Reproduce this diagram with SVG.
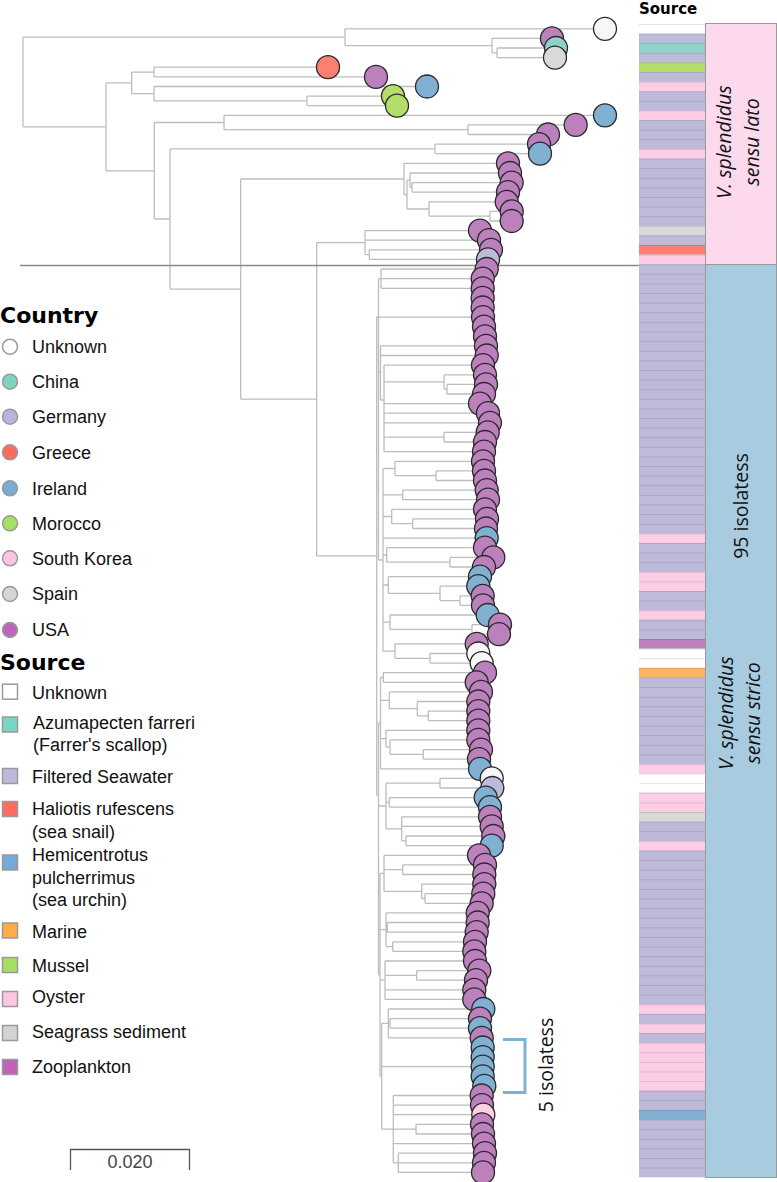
<svg xmlns="http://www.w3.org/2000/svg" width="777" height="1182" viewBox="0 0 777 1182">
<style>
.edge{fill:none;stroke:#bdbdbd;stroke-width:1.3}
.tip{stroke:#2a2a2a;stroke-width:1.3}
.usa{fill:#bc80bd}.irl{fill:#80b1d3}.unk{fill:#f7f7f7}.ger{fill:#bebada}.chn{fill:#8dd3c7}.spa{fill:#d9d9d9}.gre{fill:#fb8072}.mor{fill:#b3de69}.kor{fill:#fccde5}
.ttl{font-family:"DejaVu Sans",Verdana,sans-serif;font-weight:bold;fill:#000}
.lg{font-family:"Liberation Sans",Arial,sans-serif;font-size:18px;fill:#111}
.lc{stroke:#9a9a9a;stroke-width:1.5}
.cl{font-family:"Open Sans","DejaVu Sans",sans-serif;font-size:19.5px;fill:#111}
</style>
<defs>
<pattern id="sep" patternUnits="userSpaceOnUse" x="639" y="24" width="66" height="9.61"><rect x="0" y="0" width="66" height="0.9" fill="#000" fill-opacity="0.12"/></pattern>
</defs>
<rect width="777" height="1182" fill="#fff"/>
<g id="clade-boxes">
<rect x="705.5" y="23.5" width="71" height="241" fill="#fcd9ec" stroke="#999" stroke-width="1"/>
<rect x="705.5" y="264.5" width="71" height="913" fill="#a8cbe0" stroke="#999" stroke-width="1"/>
<text class="cl" font-style="italic" text-anchor="middle" transform="translate(731,142) rotate(-90)">V. splendidus</text>
<text class="cl" font-style="italic" text-anchor="middle" transform="translate(758.5,142) rotate(-90)">sensu lato</text>
<text class="cl" text-anchor="middle" transform="translate(748,506) rotate(-90)">95 isolatess</text>
<text class="cl" font-style="italic" text-anchor="middle" transform="translate(733,713) rotate(-90)">V. splendidus</text>
<text class="cl" font-style="italic" text-anchor="middle" transform="translate(760,713) rotate(-90)">sensu strico</text>
</g>
<g id="source-column">
<text class="ttl" x="639" y="14" font-size="15">Source</text>
<rect x="639" y="24" width="66" height="1153.2" fill="#bebada"/>
<rect x="639" y="24" width="66" height="9.61" fill="#fff"/>
<rect x="639" y="43.22" width="66" height="9.61" fill="#8dd3c7"/>
<rect x="639" y="62.44" width="66" height="9.61" fill="#b3de69"/>
<rect x="639" y="81.66" width="66" height="9.61" fill="#fccde5"/>
<rect x="639" y="110.49" width="66" height="9.61" fill="#fccde5"/>
<rect x="639" y="148.93" width="66" height="9.61" fill="#fccde5"/>
<rect x="639" y="225.81" width="66" height="9.61" fill="#d9d9d9"/>
<rect x="639" y="245.03" width="66" height="9.61" fill="#fb8072"/>
<rect x="639" y="254.64" width="66" height="9.61" fill="#fccde5"/>
<rect x="639" y="533.33" width="66" height="9.61" fill="#fccde5"/>
<rect x="639" y="571.77" width="66" height="19.22" fill="#fccde5"/>
<rect x="639" y="610.21" width="66" height="9.61" fill="#fccde5"/>
<rect x="639" y="639.04" width="66" height="9.61" fill="#bc80bd"/>
<rect x="639" y="648.65" width="66" height="19.22" fill="#fff"/>
<rect x="639" y="667.87" width="66" height="9.61" fill="#fdb462"/>
<rect x="639" y="763.97" width="66" height="9.61" fill="#fccde5"/>
<rect x="639" y="773.58" width="66" height="19.22" fill="#fff"/>
<rect x="639" y="792.8" width="66" height="19.22" fill="#fccde5"/>
<rect x="639" y="812.02" width="66" height="9.61" fill="#d9d9d9"/>
<rect x="639" y="840.85" width="66" height="9.61" fill="#fccde5"/>
<rect x="639" y="1004.22" width="66" height="9.61" fill="#fccde5"/>
<rect x="639" y="1023.44" width="66" height="9.61" fill="#fccde5"/>
<rect x="639" y="1042.66" width="66" height="48.05" fill="#fccde5"/>
<rect x="639" y="1109.93" width="66" height="9.61" fill="#80b1d3"/>
<rect x="639" y="24" width="66" height="1153.2" fill="url(#sep)"/>
</g>
<g id="connectors">
<path class="edge" d="M23 37.2V126.8M23 37.2H345M23 126.8H106
M345 28.8V45.6M345 28.8H605M345 45.6H492M492 38.4V52.8M492 38.4H552M492 52.8H497M497 48V57.6M497 48H556M497 57.6H555
M106 82.9V170.8M106 82.9H131.7M106 170.8H154.3
M131.7 72.1V93.7M131.7 72.1H154M131.7 93.7H154
M154 67.2V76.9M154 67.2H328M154 76.9H376
M154 86.5V100.9M154 86.5H427M154 100.9H307M307 96.1V105.7M307 96.1H393M307 105.7H397
M154.3 122.5V219M154.3 122.5H224M154.3 219H170
M224 115.3V129.7M224 115.3H605M224 129.7H468M468 124.9V134.5M468 124.9H575.7M468 134.5H548
M170 148.9V289.1M170 148.9H435M170 289.1H240.7M435 144.1V153.7M435 144.1H539M435 153.7H540
M240.7 179V399.2M240.7 179H404M240.7 399.2H316.7
M404 163.3V194.6M404 163.3H508M404 194.6H407M407 180.2V209M407 180.2H410M407 209H429
M410 173V187.4M410 173H510M410 187.4H412M412 182.6V192.2M412 182.6H511.7M412 192.2H508
M429 201.8V216.2M429 201.8H506.7M429 216.2H490M490 211.4V221M490 211.4H511.7M490 221H511.7
M316.7 242.6V555.9M316.7 242.6H365M316.7 555.9H376.7
M365 230.6V254.6M365 230.6H480M365 240.2H489M365 254.6H369.3M369.3 249.8V259.4M369.3 249.8H491M369.3 259.4H488
M376.7 316.7V795M376.7 316.7H378.5M376.7 795H378.5
M378.5 278.7V560M378.5 278.7H381M378.5 317.1H474M378.5 372H380.5M378.5 560H383
M381 269V288.3M381 269H486.7M381 278.7H482.7M381 288.3H482.7
M474 297.9V336.3M474 297.9H482.7M474 307.5H482.7M474 326.7H484M474 336.3H485
M380.5 345.9V400M380.5 345.9H485M380.5 355.5H486.7M380.5 400H384
M384 365.2V451.6M384 365.2H483M384 381.8H444M384 403.6H480M384 413.2H488M384 422.8H490M384 437.2H444M384 451.6H484
M444 374.8V389.2M444 374.8H485M444 389.2H447M447 384.4V394M447 384.4H486M447 394H484
M444 432.4V442M444 432.4H487.7M444 442H485
M383 468.5V651.1
M383 468.5H395M395 461.3V475.7M395 461.3H483M395 475.7H436M436 470.9V480.5M436 470.9H484M436 480.5H485
M383 494.9H402.7M402.7 490.1V499.7M402.7 490.1H486.7M402.7 499.7H488
M383 516.5H391.7M391.7 509.3V523.7M391.7 509.3H485M391.7 523.7H412.7M412.7 518.9V528.5M412.7 518.9H487M412.7 528.5H486
M383 538.1H486.7
M383 555H386.7M386.7 547.7V562.2M386.7 547.7H485M386.7 562.2H450M450 557.4V567M450 557.4H493.3M450 567H484
M383 585H388.3M388.3 576.6V593.4M388.3 576.6H480M388.3 593.4H440M440 586.2V600.6M440 586.2H478.3M440 600.6H460M460 595.8V605.4M460 595.8H482.7M460 605.4H483
M383 622.2H390M390 615V629.4M390 615H487.7M390 629.4H472M472 624.6V634.2M472 624.6H500M472 634.2H499
M383 651.1H395M395 643.8V658.3M395 643.8H476.7M395 658.3H430M430 653.5V663.1M430 653.5H478.3M430 663.1H481.7
M378.5 723.1V974.8M378.5 723.1H380.5M378.5 806H386M378.5 974.8H380
M380.5 677.5V768.8
M380.5 677.5H383.3M383.3 672.7V682.3M383.3 672.7H485M383.3 682.3H476.7
M380.5 700.3H389.3M389.3 691.9V708.7M389.3 691.9H481M389.3 708.7H417.3M417.3 701.5V715.9M417.3 701.5H478.3M417.3 715.9H428.3M428.3 711.1V720.7M428.3 711.1H478.3M428.3 720.7H478.3
M380.5 738.7H386M386 730.3V747.2M386 730.3H478.3M386 747.2H390M390 739.9V754.4M390 739.9H478.3M390 754.4H423.3M423.3 749.6V759.2M423.3 749.6H481M423.3 759.2H479
M380.5 768.8H480
M386 783.2V828.8M386 783.2H440M440 778.4V788M440 778.4H491.7M440 788H492.3
M386 802.4H389.3M389.3 797.6V807.2M389.3 797.6H485.7M389.3 807.2H490
M386 828.8H401.7M401.7 816.8V840.9M401.7 816.8H490M401.7 826.4H491.7M401.7 840.9H406M406 836V845.7M406 836H493.3M406 845.7H491.7
M380 873.3V1076.3
M380 873.3H384M384 855.3V891.3M384 855.3H479M384 869.7H402.7M402.7 864.9V874.5M402.7 864.9H485M402.7 874.5H484.3M384 891.3H421.7M421.7 884.1V898.5M421.7 884.1H484.3M421.7 898.5H425M425 893.7V903.3M425 893.7H483.3M425 903.3H481.7
M380 929.7H386M386 912.9V946.6M386 912.9H477.7M386 927.3H387.3M387.3 922.5V932.1M387.3 922.5H477.7M387.3 932.1H476.7M386 946.6H392.7M392.7 941.8V951.4M392.7 941.8H475M392.7 951.4H474.3
M380 980.2H385M385 961V999.4M385 961H475M385 975.4H416.7M416.7 970.6V980.2M416.7 970.6H479.3M416.7 980.2H476M385 989.8H474.3M385 999.4H474.3
M380 1076.3H381.7M381.7 1023.4V1129.2
M381.7 1023.4H388.3M388.3 1009V1037.9M388.3 1009H483.3M388.3 1023.4H390M390 1018.6V1028.2M390 1018.6H480M390 1028.2H480M388.3 1037.9H481.7
M381.7 1066.7H478M478 1047.5V1085.9M478 1047.5H482.7M478 1057.1H482.7M478 1076.3H482.7M478 1085.9H484.3
M381.7 1129.2H393.3M393.3 1095.5V1162.8M393.3 1095.5H481.7M393.3 1105.1H482M393.3 1114.7H483.3M393.3 1129.2H416M416 1124.3V1134M416 1124.3H482M416 1134H483M393.3 1143.6H484M393.3 1162.8H398.3M398.3 1153.2V1172.4M398.3 1153.2H485M398.3 1162.8H484M398.3 1172.4H483"/>
<line x1="20" y1="265.5" x2="639" y2="265.5" stroke="#8a8a8a" stroke-width="1.5"/>
<path id="bracket-5" d="M503 1039.5H525V1092.5H503" fill="none" stroke="#7fb1d5" stroke-width="3"/>
</g>
<g id="tips">
<circle id="n0" class="tip unk" cx="605" cy="28.8" r="11.5"/>
<circle id="n1" class="tip usa" cx="552" cy="38.4" r="11.5"/>
<circle id="n2" class="tip chn" cx="556" cy="48" r="11.5"/>
<circle id="n3" class="tip spa" cx="555" cy="57.6" r="11.5"/>
<circle id="n4" class="tip gre" cx="328" cy="67.2" r="11.5"/>
<circle id="n5" class="tip usa" cx="376" cy="76.9" r="11.5"/>
<circle id="n6" class="tip irl" cx="427" cy="86.5" r="11.5"/>
<circle id="n7" class="tip mor" cx="393" cy="96.1" r="11.5"/>
<circle id="n8" class="tip mor" cx="397" cy="105.7" r="11.5"/>
<circle id="n9" class="tip irl" cx="605" cy="115.3" r="11.5"/>
<circle id="n10" class="tip usa" cx="575.7" cy="124.9" r="11.5"/>
<circle id="n11" class="tip usa" cx="548" cy="134.5" r="11.5"/>
<circle id="n12" class="tip usa" cx="539" cy="144.1" r="11.5"/>
<circle id="n13" class="tip irl" cx="540" cy="153.7" r="11.5"/>
<circle id="n14" class="tip usa" cx="508" cy="163.3" r="11.5"/>
<circle id="n15" class="tip usa" cx="510" cy="173" r="11.5"/>
<circle id="n16" class="tip usa" cx="511.7" cy="182.6" r="11.5"/>
<circle id="n17" class="tip usa" cx="508" cy="192.2" r="11.5"/>
<circle id="n18" class="tip usa" cx="506.7" cy="201.8" r="11.5"/>
<circle id="n19" class="tip usa" cx="511.7" cy="211.4" r="11.5"/>
<circle id="n20" class="tip usa" cx="511.7" cy="221" r="11.5"/>
<circle id="n21" class="tip usa" cx="480" cy="230.6" r="11.5"/>
<circle id="n22" class="tip usa" cx="489" cy="240.2" r="11.5"/>
<circle id="n23" class="tip usa" cx="491" cy="249.8" r="11.5"/>
<circle id="n24" class="tip ger" cx="488" cy="259.4" r="11.5"/>
<circle id="n25" class="tip usa" cx="486.7" cy="269" r="11.5"/>
<circle id="n26" class="tip usa" cx="482.7" cy="278.7" r="11.5"/>
<circle id="n27" class="tip usa" cx="482.7" cy="288.3" r="11.5"/>
<circle id="n28" class="tip usa" cx="482.7" cy="297.9" r="11.5"/>
<circle id="n29" class="tip usa" cx="482.7" cy="307.5" r="11.5"/>
<circle id="n30" class="tip usa" cx="483" cy="317.1" r="11.5"/>
<circle id="n31" class="tip usa" cx="484" cy="326.7" r="11.5"/>
<circle id="n32" class="tip usa" cx="485" cy="336.3" r="11.5"/>
<circle id="n33" class="tip usa" cx="486" cy="345.9" r="11.5"/>
<circle id="n34" class="tip usa" cx="486.7" cy="355.5" r="11.5"/>
<circle id="n35" class="tip usa" cx="483" cy="365.2" r="11.5"/>
<circle id="n36" class="tip usa" cx="485" cy="374.8" r="11.5"/>
<circle id="n37" class="tip usa" cx="486" cy="384.4" r="11.5"/>
<circle id="n38" class="tip usa" cx="484" cy="394" r="11.5"/>
<circle id="n39" class="tip usa" cx="480" cy="403.6" r="11.5"/>
<circle id="n40" class="tip usa" cx="488" cy="413.2" r="11.5"/>
<circle id="n41" class="tip usa" cx="490" cy="422.8" r="11.5"/>
<circle id="n42" class="tip usa" cx="487.7" cy="432.4" r="11.5"/>
<circle id="n43" class="tip usa" cx="485" cy="442" r="11.5"/>
<circle id="n44" class="tip usa" cx="484" cy="451.6" r="11.5"/>
<circle id="n45" class="tip usa" cx="483" cy="461.3" r="11.5"/>
<circle id="n46" class="tip usa" cx="484" cy="470.9" r="11.5"/>
<circle id="n47" class="tip usa" cx="485" cy="480.5" r="11.5"/>
<circle id="n48" class="tip usa" cx="486.7" cy="490.1" r="11.5"/>
<circle id="n49" class="tip usa" cx="488" cy="499.7" r="11.5"/>
<circle id="n50" class="tip usa" cx="485" cy="509.3" r="11.5"/>
<circle id="n51" class="tip usa" cx="487" cy="518.9" r="11.5"/>
<circle id="n52" class="tip usa" cx="486" cy="528.5" r="11.5"/>
<circle id="n53" class="tip irl" cx="486.7" cy="538.1" r="11.5"/>
<circle id="n54" class="tip usa" cx="485" cy="547.7" r="11.5"/>
<circle id="n55" class="tip usa" cx="493.3" cy="557.4" r="11.5"/>
<circle id="n56" class="tip usa" cx="484" cy="567" r="11.5"/>
<circle id="n57" class="tip irl" cx="480" cy="576.6" r="11.5"/>
<circle id="n58" class="tip irl" cx="478.3" cy="586.2" r="11.5"/>
<circle id="n59" class="tip usa" cx="482.7" cy="595.8" r="11.5"/>
<circle id="n60" class="tip usa" cx="483" cy="605.4" r="11.5"/>
<circle id="n61" class="tip irl" cx="487.7" cy="615" r="11.5"/>
<circle id="n62" class="tip usa" cx="500" cy="624.6" r="11.5"/>
<circle id="n63" class="tip usa" cx="499" cy="634.2" r="11.5"/>
<circle id="n64" class="tip usa" cx="476.7" cy="643.8" r="11.5"/>
<circle id="n65" class="tip unk" cx="478.3" cy="653.5" r="11.5"/>
<circle id="n66" class="tip unk" cx="481.7" cy="663.1" r="11.5"/>
<circle id="n67" class="tip usa" cx="485" cy="672.7" r="11.5"/>
<circle id="n68" class="tip usa" cx="476.7" cy="682.3" r="11.5"/>
<circle id="n69" class="tip usa" cx="481" cy="691.9" r="11.5"/>
<circle id="n70" class="tip usa" cx="478.3" cy="701.5" r="11.5"/>
<circle id="n71" class="tip usa" cx="478.3" cy="711.1" r="11.5"/>
<circle id="n72" class="tip usa" cx="478.3" cy="720.7" r="11.5"/>
<circle id="n73" class="tip usa" cx="478.3" cy="730.3" r="11.5"/>
<circle id="n74" class="tip usa" cx="478.3" cy="739.9" r="11.5"/>
<circle id="n75" class="tip usa" cx="481" cy="749.6" r="11.5"/>
<circle id="n76" class="tip usa" cx="479" cy="759.2" r="11.5"/>
<circle id="n77" class="tip irl" cx="480" cy="768.8" r="11.5"/>
<circle id="n78" class="tip unk" cx="491.7" cy="778.4" r="11.5"/>
<circle id="n79" class="tip ger" cx="492.3" cy="788" r="11.5"/>
<circle id="n80" class="tip irl" cx="485.7" cy="797.6" r="11.5"/>
<circle id="n81" class="tip irl" cx="490" cy="807.2" r="11.5"/>
<circle id="n82" class="tip usa" cx="490" cy="816.8" r="11.5"/>
<circle id="n83" class="tip usa" cx="491.7" cy="826.4" r="11.5"/>
<circle id="n84" class="tip usa" cx="493.3" cy="836" r="11.5"/>
<circle id="n85" class="tip irl" cx="491.7" cy="845.7" r="11.5"/>
<circle id="n86" class="tip usa" cx="479" cy="855.3" r="11.5"/>
<circle id="n87" class="tip usa" cx="485" cy="864.9" r="11.5"/>
<circle id="n88" class="tip usa" cx="484.3" cy="874.5" r="11.5"/>
<circle id="n89" class="tip usa" cx="484.3" cy="884.1" r="11.5"/>
<circle id="n90" class="tip usa" cx="483.3" cy="893.7" r="11.5"/>
<circle id="n91" class="tip usa" cx="481.7" cy="903.3" r="11.5"/>
<circle id="n92" class="tip usa" cx="477.7" cy="912.9" r="11.5"/>
<circle id="n93" class="tip usa" cx="477.7" cy="922.5" r="11.5"/>
<circle id="n94" class="tip usa" cx="476.7" cy="932.1" r="11.5"/>
<circle id="n95" class="tip usa" cx="475" cy="941.8" r="11.5"/>
<circle id="n96" class="tip usa" cx="474.3" cy="951.4" r="11.5"/>
<circle id="n97" class="tip usa" cx="475" cy="961" r="11.5"/>
<circle id="n98" class="tip usa" cx="479.3" cy="970.6" r="11.5"/>
<circle id="n99" class="tip usa" cx="476" cy="980.2" r="11.5"/>
<circle id="n100" class="tip usa" cx="474.3" cy="989.8" r="11.5"/>
<circle id="n101" class="tip usa" cx="474.3" cy="999.4" r="11.5"/>
<circle id="n102" class="tip irl" cx="483.3" cy="1009" r="11.5"/>
<circle id="n103" class="tip usa" cx="480" cy="1018.6" r="11.5"/>
<circle id="n104" class="tip irl" cx="480" cy="1028.2" r="11.5"/>
<circle id="n105" class="tip usa" cx="481.7" cy="1037.9" r="11.5"/>
<circle id="n106" class="tip irl" cx="482.7" cy="1047.5" r="11.5"/>
<circle id="n107" class="tip irl" cx="482.7" cy="1057.1" r="11.5"/>
<circle id="n108" class="tip irl" cx="482.7" cy="1066.7" r="11.5"/>
<circle id="n109" class="tip irl" cx="482.7" cy="1076.3" r="11.5"/>
<circle id="n110" class="tip irl" cx="484.3" cy="1085.9" r="11.5"/>
<circle id="n111" class="tip usa" cx="481.7" cy="1095.5" r="11.5"/>
<circle id="n112" class="tip usa" cx="482" cy="1105.1" r="11.5"/>
<circle id="n113" class="tip kor" cx="483.3" cy="1114.7" r="11.5"/>
<circle id="n114" class="tip usa" cx="482" cy="1124.3" r="11.5"/>
<circle id="n115" class="tip usa" cx="483" cy="1134" r="11.5"/>
<circle id="n116" class="tip usa" cx="484" cy="1143.6" r="11.5"/>
<circle id="n117" class="tip usa" cx="485" cy="1153.2" r="11.5"/>
<circle id="n118" class="tip usa" cx="484" cy="1162.8" r="11.5"/>
<circle id="n119" class="tip usa" cx="483" cy="1172.4" r="11.5"/>
</g>
<g id="label-5-isolates">
<text class="cl" text-anchor="middle" transform="translate(553,1065) rotate(-90)">5 isolatess</text>
</g>
<g id="legend-country">
<text class="ttl" x="0" y="323" font-size="22">Country</text>
<circle class="lc" cx="10" cy="346.7" r="7.5" fill="#ffffff"/><text class="lg" x="32" y="353">Unknown</text>
<circle class="lc" cx="10" cy="381.7" r="7.5" fill="#7fd4c1"/><text class="lg" x="32" y="388">China</text>
<circle class="lc" cx="10" cy="416.7" r="7.5" fill="#bcb3dc"/><text class="lg" x="32" y="423">Germany</text>
<circle class="lc" cx="10" cy="452.3" r="7.5" fill="#fd6b5f"/><text class="lg" x="32" y="458.6">Greece</text>
<circle class="lc" cx="10" cy="488.3" r="7.5" fill="#76acd6"/><text class="lg" x="32" y="494.6">Ireland</text>
<circle class="lc" cx="10" cy="523.3" r="7.5" fill="#a6e063"/><text class="lg" x="32" y="529.6">Morocco</text>
<circle class="lc" cx="10" cy="558.3" r="7.5" fill="#fdc4e3"/><text class="lg" x="32" y="564.6">South Korea</text>
<circle class="lc" cx="10" cy="594" r="7.5" fill="#d5d5d5"/><text class="lg" x="32" y="600.3">Spain</text>
<circle class="lc" cx="10" cy="630" r="7.5" fill="#c064bb"/><text class="lg" x="32" y="636.3">USA</text>
</g>
<g id="legend-source">
<text class="ttl" x="0" y="670" font-size="22">Source</text>
<rect class="lc" x="2.5" y="684.2" width="15" height="15" fill="#ffffff"/><text class="lg" x="32" y="699">Unknown</text>
<rect class="lc" x="2.5" y="717" width="15" height="15" fill="#79d6c2"/><text class="lg" x="33" y="729">Azumapecten farreri</text><text class="lg" x="33" y="750.6">(Farrer's scallop)</text>
<rect class="lc" x="2.5" y="768.5" width="15" height="15" fill="#bfb8db"/><text class="lg" x="32" y="783">Filtered Seawater</text>
<rect class="lc" x="2.5" y="801.5" width="15" height="15" fill="#fd6d61"/><text class="lg" x="32" y="815.3">Haliotis rufescens</text><text class="lg" x="32" y="838">(sea snail)</text>
<rect class="lc" x="2.5" y="855" width="15" height="15" fill="#75a9d6"/><text class="lg" x="32" y="861.3">Hemicentrotus</text><text class="lg" x="32" y="883.6">pulcherrimus</text><text class="lg" x="32" y="906.3">(sea urchin)</text>
<rect class="lc" x="2.5" y="923" width="15" height="15" fill="#fdae4c"/><text class="lg" x="32" y="938">Marine</text>
<rect class="lc" x="2.5" y="957.5" width="15" height="15" fill="#a6e063"/><text class="lg" x="32" y="972.3">Mussel</text>
<rect class="lc" x="2.5" y="991.5" width="15" height="15" fill="#fec6e2"/><text class="lg" x="32" y="1003">Oyster</text>
<rect class="lc" x="2.5" y="1025.5" width="15" height="15" fill="#d3d3d3"/><text class="lg" x="32" y="1038">Seagrass sediment</text>
<rect class="lc" x="2.5" y="1059.5" width="15" height="15" fill="#bf63b9"/><text class="lg" x="32" y="1073">Zooplankton</text>
</g>
<g id="scale-bar">
<path d="M70.5 1170V1149.5H189.5V1170" fill="none" stroke="#555" stroke-width="1.3"/>
<text x="130" y="1168" text-anchor="middle" font-family="Liberation Sans, Arial, sans-serif" font-size="18" fill="#444">0.020</text>
</g>
</svg>
